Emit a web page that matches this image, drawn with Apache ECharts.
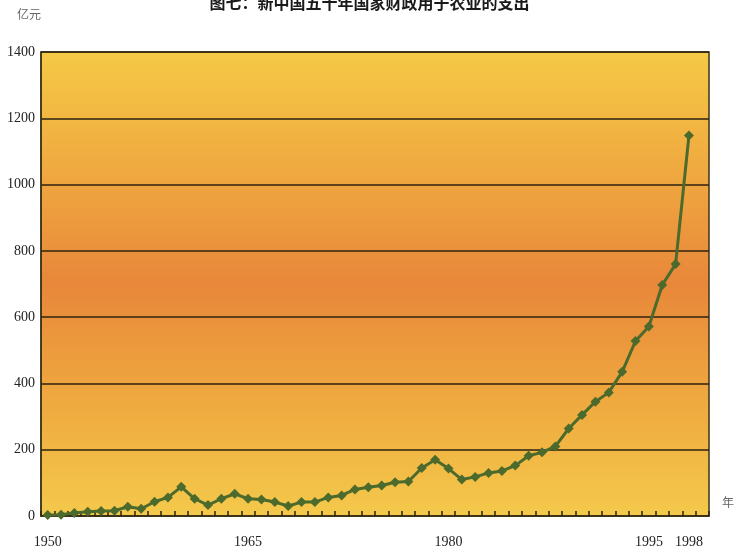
<!DOCTYPE html>
<html>
<head>
<meta charset="utf-8">
<script src="https://cdn.jsdelivr.net/npm/echarts@6/dist/echarts.min.js"></script>
<style>
html,body{margin:0;padding:0;background:#ffffff;}
#chart{width:739px;height:557px;}
</style>
</head>
<body>
<div id="chart"></div>
<script>
// Data
var years = ['1950','1951','1952','1953','1954','1955','1956','1957','1958','1959',
  '1960','1961','1962','1963','1964','1965','1966','1967','1968','1969',
  '1970','1971','1972','1973','1974','1975','1976','1977','1978','1979',
  '1980','1981','1982','1983','1984','1985','1986','1987','1988','1989',
  '1990','1991','1992','1993','1994','1995','1996','1997','1998','1999'];
var spending = [3, 4, 9, 13, 15, 16, 28, 22, 43, 56,
  88, 52, 33, 52, 67, 52, 50, 42, 30, 42,
  42, 56, 62, 80, 87, 92, 102, 104, 145, 170,
  143, 110, 118, 130, 136, 152, 182, 192, 210, 264,
  305, 345, 373, 435, 528, 572, 697, 760, 1148, null];
var xTickLabels = ['1950','1965','1980','1995','1998'];
var yTicks = [0, 200, 400, 600, 800, 1000, 1200, 1400];
var titleText = '图七：新中国五十年国家财政用于农业的支出';
var yUnit = '亿元';
var xUnit = '年';

var chart = echarts.init(document.getElementById('chart'));
var serif = '"Liberation Serif", "DejaVu Serif", serif';
var cjk = '"Noto Sans CJK SC", sans-serif';

chart.setOption({
  backgroundColor: '#ffffff',
  animation: false,
  title: {
    text: titleText,
    left: 'center',
    top: -10,
    textStyle: { fontFamily: cjk, fontSize: 16, fontWeight: 'bold', color: '#1a1a1a' }
  },
  graphic: [
    { type: 'text', left: 17, top: 8, style: { text: yUnit, font: '12px ' + cjk, fill: '#666' } },
    { type: 'text', left: 722, top: 496, style: { text: xUnit, font: '12px ' + cjk, fill: '#666' } }
  ],
  grid: {
    left: 41, right: 30, top: 52, bottom: 41,
    show: true,
    borderColor: '#3a3418',
    borderWidth: 1.5,
    backgroundColor: {
      type: 'linear', x: 0, y: 0, x2: 0, y2: 1,
      colorStops: [
        { offset: 0, color: '#f5c946' },
        { offset: 0.25, color: '#f0aa40' },
        { offset: 0.5, color: '#e8873a' },
        { offset: 0.75, color: '#efa93f' },
        { offset: 1, color: '#f4c94b' }
      ]
    }
  },
  xAxis: {
    type: 'category',
    data: years,
    boundaryGap: true,
    axisLine: { show: true, lineStyle: { color: '#3a3418', width: 1.5 } },
    axisTick: { show: true, inside: true, length: 5, interval: 0, lineStyle: { color: '#2a2410', width: 1.5 } },
    axisLabel: {
      interval: 0,
      margin: 19,
      fontFamily: serif,
      fontSize: 14,
      color: '#222',
      formatter: function (v) { return xTickLabels.indexOf(v) >= 0 ? v : ''; }
    },
    splitLine: { show: false }
  },
  yAxis: {
    type: 'value',
    min: yTicks[0],
    max: yTicks[yTicks.length - 1],
    interval: 200,
    axisLine: { show: true, lineStyle: { color: '#3a3418', width: 1.5 } },
    axisTick: { show: false },
    axisLabel: { margin: 6, fontFamily: serif, fontSize: 14, color: '#222',
      formatter: function (v) { return String(v); } },
    splitLine: { show: true, lineStyle: { color: '#2e2210', width: 1.5 } }
  },
  series: [{
    type: 'line',
    data: spending,
    symbol: 'diamond',
    symbolSize: 10,
    lineStyle: { color: '#4b6a2c', width: 3 },
    itemStyle: { color: '#4b6a2c' },
    z: 5
  }]
});
</script>
</body>
</html>
